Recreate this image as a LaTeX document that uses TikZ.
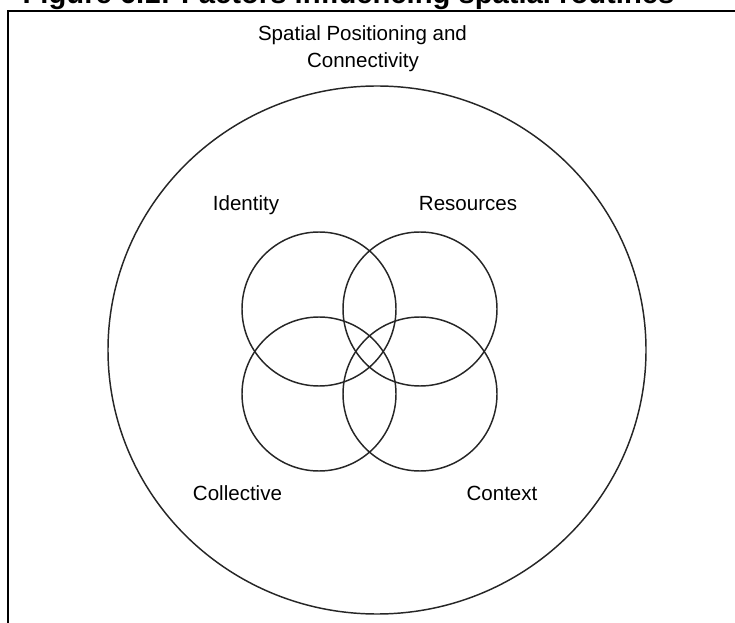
\documentclass[tikz,border=0pt]{standalone}
\usepackage{fontspec}
\setmainfont{Liberation Sans}
\usetikzlibrary{shapes.geometric}
\begin{document}
\begin{tikzpicture}[x=0.75pt,y=-0.75pt,
  ring/.style={draw=black!85,line width=1.1pt,circle,inner sep=0pt,
    minimum size=115.5pt},
  lbl/.style={anchor=base,inner sep=0pt,font=\fontsize{15.4pt}{19pt}\selectfont},
  heading/.style={anchor=base,inner sep=0pt,font=\bfseries\fontsize{21.9pt}{26pt}\selectfont}]
\useasboundingbox (0,0) rectangle (735,623);
% figure caption, cut by the page edge
\node[heading] (caption) at (348.5,4) {Figure 6.1: Factors influencing spatial routines};
% frame around the figure
\draw[line width=1.5pt] (8,700) -- (8,11) -- (760,11);
% outer region
\node[draw=black!85,line width=1.1pt,ellipse,inner sep=0pt,
  minimum width=403.5pt,minimum height=396pt] (outer) at (377,350) {};
\node[lbl] (spc1) at (362.5,41) {Spatial Positioning and};
\node[lbl] (spc2) at (363,68) {Connectivity};
% four overlapping factors
\node[ring] (identity) at (319,309) {};
\node[ring] (resources) at (420,309) {};
\node[ring] (collective) at (319,394) {};
\node[ring] (context) at (420,394) {};
\node[lbl] (lid) at (246,210.5) {Identity};
\node[lbl] (lres) at (468,210.5) {Resources};
\node[lbl] (lcol) at (237.5,500) {Collective};
\node[lbl] (lcon) at (502,500) {Context};
\end{tikzpicture}
\end{document}
